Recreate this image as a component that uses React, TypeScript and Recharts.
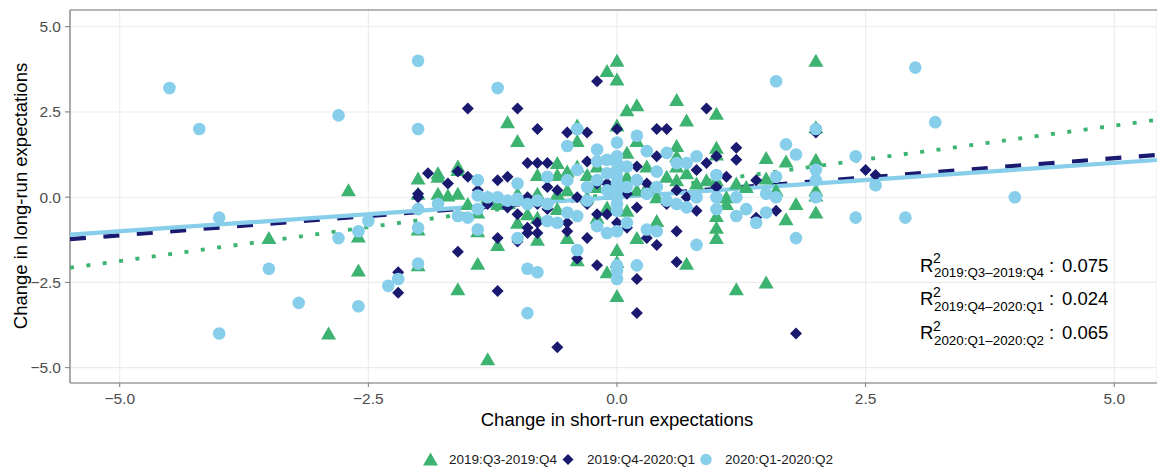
import React from 'react';
import { ComposedChart, Scatter, XAxis, YAxis, CartesianGrid, ReferenceLine } from 'recharts';

// axis setup
const xTicks = [-5, -2.5, 0, 2.5, 5];
const yTicks = [-5, -2.5, 0, 2.5, 5];
const xDomain = [-5.5, 5.43];
const yDomain = [-5.45, 5.49];

const seriesNames = ['2019:Q3-2019:Q4', '2019:Q4-2020:Q1', '2020:Q1-2020:Q2'];
const seriesColors = ['#3CB371', '#191970', '#87CEEB'];
const r2Subscripts = ['2019:Q3\u20132019:Q4', '2019:Q4\u20132020:Q1', '2020:Q1\u20132020:Q2'];
const r2Values = ['0.075', '0.024', '0.065'];

const toPts = (arr: number[][]) => arr.map(([x, y]) => ({ x, y }));

// 2019:Q3-2019:Q4
const q3q4 = toPts([
  [-3.5, -1.2], [-2.7, 0.2], [-2.6, -1.15], [-2.6, -2.15], [-2.9, -4.0],
  [-2.0, 0.55], [-1.8, 0.6], [-1.8, 0.7], [-1.6, 0.8], [-1.6, 0.9], [-2.0, 0.1], [-1.8, 0.1], [-1.7, 0.05],
  [-2.0, -0.95], [-2.0, -2.0], [-1.6, -2.7], [-1.4, -1.95], [-1.4, -1.0], [-1.4, -0.45], [-1.2, -1.4], [-1.3, -4.75],
  [-1.1, 2.2], [-1.0, 1.65], [-0.4, 2.1], [-0.4, 1.65], [0.0, 2.1], [-0.8, 0.65], [-0.6, 0.65], [-0.5, 0.75],
  [-0.3, 0.65], [-0.4, 0.9], [-0.2, 0.9],
  [-1.0, -0.75], [-0.8, -1.25], [-0.6, -0.35], [-0.4, -1.85], [-0.1, -2.2], [0.0, -1.55], [0.0, -1.9], [0.0, -2.9],
  [0.0, 4.0], [-0.1, 3.7], [0.0, 3.45], [0.1, 2.55], [0.2, 2.7], [0.6, 2.85], [0.7, 2.25], [1.0, 2.45],
  [0.2, 1.65], [0.1, 1.3], [0.6, 1.5], [0.6, 1.2], [0.6, 0.9], [1.0, 1.45], [1.0, 1.25], [1.5, 1.15], [1.7, 1.05],
  [1.5, 0.55], [0.3, 0.9],
  [2.0, 2.05], [2.0, 4.0], [2.0, 1.1], [2.0, 0.2], [2.0, 0.05], [2.0, -0.45], [1.8, -0.2], [1.7, -0.65],
  [1.1, -0.2], [1.0, -0.55], [1.0, -0.9], [1.0, -1.2], [0.7, -1.95], [1.2, -2.7], [1.5, -2.5],
  [0.9, 0.5], [1.1, 0.0], [0.6, 0.5], [1.0, 0.5],
  [-0.8, 0.1], [-0.6, 0.1], [-1.0, 0.1], [-0.5, 0.2], [-0.3, 0.0], [-0.2, 0.3], [0.1, 0.6], [0.3, 0.3], [0.4, 0.0],
  [0.5, 0.6], [0.8, 0.4], [-0.1, -0.3], [0.1, -0.4], [-0.9, -0.5], [-1.3, 0.0], [-1.6, 0.1], [-1.5, -0.2],
  [0.2, 0.2], [-0.6, 1.0], [0.7, 0.7], [1.3, 0.3], [-1.2, -0.2], [-0.2, -0.6], [0.4, -0.7], [0.2, -1.2],
  [-0.5, -1.2], [-0.8, -0.6], [1.2, 0.4], [1.6, 0.2],
]);

// 2019:Q4-2020:Q1
const q4q1 = toPts([
  [-2.2, -2.2], [-2.2, -2.8], [-2.0, 0.0], [-2.0, 0.1], [-1.9, 0.7], [-1.7, 0.4], [-1.6, 0.75], [-1.5, 0.6],
  [-1.2, 0.5], [-1.1, 0.6],
  [-1.5, 2.6], [-1.0, 2.6], [-0.8, 2.0], [-0.5, 1.9], [-0.3, 1.9], [-0.2, 3.4], [0.0, 2.0], [0.4, 2.0], [0.5, 2.0],
  [0.9, 2.6],
  [-0.9, 1.0], [-0.8, 1.0], [-0.7, 1.0], [-0.3, 1.05], [0.4, 1.2], [0.9, 1.0], [1.0, 1.2], [1.2, 1.45], [1.2, 1.1],
  [0.8, 0.8], [1.1, 0.6], [1.4, 0.5], [0.6, 0.2], [2.0, 1.9], [2.5, 0.8], [2.6, 0.65], [0.2, 0.9], [-0.1, 0.4],
  [-0.2, 0.4],
  [-1.6, -1.6], [-1.2, -1.2], [-1.2, -2.75], [-1.1, -0.3], [-1.0, -0.5], [-1.0, -1.3], [-0.9, -0.9], [-0.8, -0.75],
  [-0.8, -1.05], [-0.9, -1.05], [-0.8, -0.2], [-0.7, -0.35], [-0.5, -0.75], [-0.5, -1.0], [-0.3, -1.2],
  [-0.4, -1.8], [-0.2, -2.0], [-0.2, -0.5],
  [-0.6, -4.4], [0.2, -3.4], [0.2, -2.4], [1.8, -4.0], [0.6, -1.9], [0.6, -1.0], [0.4, -1.4], [0.3, -1.2],
  [0.0, -0.75], [0.8, -0.4], [1.4, -0.6], [1.6, -0.4],
  [-0.6, 0.2], [-0.4, 0.0], [-0.3, -0.2], [0.1, 0.1], [0.2, -0.3], [0.3, 0.4], [0.5, -0.2], [-0.1, -0.5],
  [0.0, 0.6], [-0.7, 0.3], [-0.9, 0.0], [-1.3, -0.2], [0.7, 0.0], [1.0, 0.3], [-1.4, 0.2], [-0.5, 0.5], [0.1, -0.9],
]);

// 2020:Q1-2020:Q2
const q1q2 = toPts([
  [-4.5, 3.2], [-4.2, 2.0], [-4.0, -0.6], [-4.0, -4.0], [-3.5, -2.1], [-3.2, -3.1], [-2.8, 2.4], [-2.8, -1.2],
  [-2.6, -1.0], [-2.6, -3.2], [-2.5, -0.7], [-2.3, -2.6], [-2.2, -2.4], [-2.0, 4.0], [-2.0, 2.0], [-2.0, -1.95],
  [-2.0, -0.35], [-1.8, -0.2], [-2.0, -0.9], [-1.6, -0.55], [-1.5, -0.6], [-1.4, -0.35], [-1.4, -0.95],
  [-1.4, 0.5], [-1.4, 0.05], [-1.2, 0.0], [-1.1, -0.1], [-1.3, 0.0], [-1.0, -0.05], [-1.0, 0.4], [-1.0, -1.2],
  [-1.2, 3.2], [-0.9, -2.1], [-0.8, -2.2], [-0.9, -3.4],
  [-0.9, -0.2], [-0.7, -0.2], [-0.7, 0.6], [-0.7, -0.7], [-0.6, -0.75], [-0.5, 0.5], [-0.5, 1.5], [-0.5, -0.45],
  [-0.4, 2.0], [-0.4, 0.8], [-0.4, -0.55], [-0.4, -1.55], [-0.2, 1.4], [-0.2, 1.05], [-0.2, -0.85], [-0.1, 1.1],
  [-0.1, -1.05], [-0.8, -0.1], [-0.3, 0.3], [-0.3, -0.1], [-0.2, 0.5], [-0.1, 0.7], [-0.1, 0.2],
  [0.0, 1.6], [0.0, 1.2], [0.0, 1.0], [0.0, 0.8], [0.0, 0.6], [0.0, 0.4], [0.0, 0.2], [0.0, 0.0], [0.0, -0.2],
  [0.0, -0.4], [0.0, -1.0], [0.0, -2.0], [0.0, -2.4], [0.0, -2.15], [0.1, -0.75], [0.1, 0.9], [0.1, 0.3],
  [0.2, 1.8], [0.2, 0.5], [0.2, -2.0], [0.3, 1.35], [0.3, -0.95], [0.3, 0.1], [0.4, 0.75], [0.4, -1.0],
  [0.4, 0.3], [0.5, 1.3], [0.5, -0.1], [0.6, 1.0], [0.6, -0.2], [0.7, 1.0], [0.7, -0.3], [0.8, 1.2], [0.8, 0.0],
  [0.8, -1.4], [1.0, 0.65], [1.0, 0.0], [1.0, -0.35], [1.2, 0.0], [1.2, -0.55], [1.3, -0.35], [1.4, -0.75],
  [1.5, -0.45], [1.5, 0.1], [1.6, 0.0], [1.6, 0.6], [1.7, 1.55], [1.8, 1.25], [1.8, -1.2], [1.6, 3.4],
  [2.0, 2.0], [2.0, 0.8], [2.0, 0.5], [2.0, 0.0], [2.4, 1.2], [2.6, 0.35], [2.4, -0.6], [2.9, -0.6],
  [3.2, 2.2], [3.0, 3.8], [4.0, 0.0],
]);

// fitted lines, end points read at the panel edges
const fitQ3Q4 = toPts([[-5.5, -2.07], [5.43, 2.27]]);
const fitQ4Q1 = toPts([[-5.5, -1.23], [5.43, 1.24]]);
const fitQ1Q2 = toPts([[-5.5, -1.1], [5.43, 1.09]]);

const W = 1157;
const H = 468;
const FONT = '"Liberation Sans", Arial, Helvetica, sans-serif';

const fmt = (v: number) => (v < 0 ? '\u2212' : '') + Math.abs(v).toFixed(1);

const TriShape = (p: any) => {
  const { cx, cy, fill } = p;
  return (
    <polygon
      points={`${cx},${cy - 7} ${cx - 7.5},${cy + 6} ${cx + 7.5},${cy + 6}`}
      fill={fill}
    />
  );
};

const DiamondShape = (p: any) => {
  const { cx, cy, fill } = p;
  const d = 6;
  return <polygon points={`${cx},${cy - d} ${cx + d},${cy} ${cx},${cy + d} ${cx - d},${cy}`} fill={fill} />;
};

const CircleShape = (p: any) => {
  const { cx, cy, fill } = p;
  return <circle cx={cx} cy={cy} r={6.3} fill={fill} />;
};

const NoShape = () => <g />;

function Overlay() {
  const r2Top = [271.7, 305, 339];
  return (
    <svg
      width={W}
      height={H}
      style={{ position: 'absolute', left: 0, top: 0, pointerEvents: 'none', fontFamily: FONT }}
    >
      {/* axis titles */}
      <text x={617} y={426} textAnchor="middle" fontSize={18.5} fill="#000">
        Change in short-run expectations
      </text>
      <text
        transform="translate(27,196) rotate(-90)"
        textAnchor="middle"
        fontSize={18.5}
        fill="#000"
      >
        Change in long-run expectations
      </text>

      {/* R squared annotation */}
      {r2Values.map((v, i) => (
        <g key={v}>
          <text x={920} y={r2Top[i]} fontSize={18.5} fill="#000">R</text>
          <text x={933} y={r2Top[i] - 8.5} fontSize={14} fill="#000">2</text>
          <text x={934} y={r2Top[i] + 5.5} fontSize={13.5} fill="#000" textLength={110} lengthAdjust="spacingAndGlyphs">
            {r2Subscripts[i]}
          </text>
          <text x={1049} y={r2Top[i]} fontSize={18.5} fill="#000">:</text>
          <text x={1062} y={r2Top[i]} fontSize={18.5} fill="#000">{v}</text>
        </g>
      ))}

      {/* legend */}
      <polygon points="430.5,452.5 423,465.5 438,465.5" fill={seriesColors[0]} />
      <text x={449} y={464} fontSize={13.5} fill="#1a1a1a">{seriesNames[0]}</text>
      <polygon points="568,454 573.5,459.5 568,465 562.5,459.5" fill={seriesColors[1]} />
      <text x={587} y={464} fontSize={13.5} fill="#1a1a1a">{seriesNames[1]}</text>
      <circle cx={706} cy={459.5} r={5.7} fill={seriesColors[2]} />
      <text x={725} y={464} fontSize={13.5} fill="#1a1a1a">{seriesNames[2]}</text>
    </svg>
  );
}

export default function App() {
  return (
    <div style={{ position: 'relative', width: W, height: H, fontFamily: FONT, background: '#fff' }}>
      <style>{'body{margin:0}'}</style>
      <ComposedChart width={W} height={H} margin={{ top: 10, right: 0, left: 0, bottom: 0 }}>
        <CartesianGrid stroke="#EBEBEB" strokeWidth={1.1} />
        <XAxis
          type="number"
          dataKey="x"
          domain={xDomain}
          ticks={xTicks}
          interval={0}
          allowDataOverflow
          tickFormatter={fmt}
          tick={{ fill: '#4D4D4D', fontSize: 15.5 }}
          tickSize={4}
          tickMargin={6}
          axisLine={{ stroke: '#777', strokeWidth: 1.2 }}
          tickLine={{ stroke: '#777' }}
          height={85}
        />
        <YAxis
          type="number"
          dataKey="y"
          domain={yDomain}
          ticks={yTicks}
          interval={0}
          allowDataOverflow
          tickFormatter={fmt}
          tick={{ fill: '#4D4D4D', fontSize: 15.5 }}
          tickSize={5}
          tickMargin={4}
          axisLine={{ stroke: '#777', strokeWidth: 1.2 }}
          tickLine={{ stroke: '#777' }}
          width={70}
        />
        <ReferenceLine y={yDomain[1]} stroke="#777" strokeWidth={1.2} />

        <Scatter
          data={fitQ3Q4}
          shape={NoShape}
          line={{ stroke: seriesColors[0], strokeWidth: 3.8, strokeDasharray: '4 12.5' }}
          isAnimationActive={false}
        />
        <Scatter
          data={fitQ4Q1}
          shape={NoShape}
          line={{ stroke: seriesColors[1], strokeWidth: 4.2, strokeDasharray: '16 17.5' }}
          isAnimationActive={false}
        />
        <Scatter
          data={fitQ1Q2}
          shape={NoShape}
          line={{ stroke: seriesColors[2], strokeWidth: 4.2 }}
          isAnimationActive={false}
        />

        <Scatter name={seriesNames[0]} data={q3q4} fill={seriesColors[0]} shape={TriShape} isAnimationActive={false} />
        <Scatter name={seriesNames[1]} data={q4q1} fill={seriesColors[1]} shape={DiamondShape} isAnimationActive={false} />
        <Scatter name={seriesNames[2]} data={q1q2} fill={seriesColors[2]} shape={CircleShape} isAnimationActive={false} />
      </ComposedChart>
      <Overlay />
    </div>
  );
}
